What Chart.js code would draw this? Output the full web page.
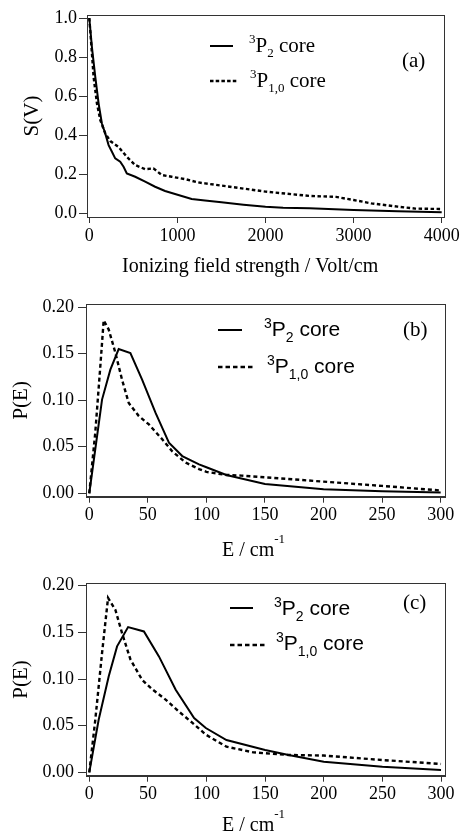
<!DOCTYPE html>
<html>
<head>
<meta charset="utf-8">
<script src="https://cdn.jsdelivr.net/npm/chart.js@4.4.0/dist/chart.umd.min.js"></script>
<style>
  html, body { margin: 0; padding: 0; background: #fff; }
  #wrap { position: relative; width: 462px; height: 834px; }
  canvas { position: absolute; left: 0; }
</style>
</head>
<body>
<div id="wrap">
  <canvas id="chartA" width="462" height="280" style="top:0px"></canvas>
  <canvas id="chartB" width="462" height="280" style="top:280px"></canvas>
  <canvas id="chartC" width="462" height="274" style="top:560px"></canvas>
</div>
<script>
// Panel (a): survival S(V) vs ionizing field (Volt/cm)
const fieldA_P2 = [0, 30, 68, 106, 143, 181, 219, 257, 294, 351, 389, 426, 521, 634, 747, 860, 1011, 1162, 1313, 1500, 1750, 2000, 2200, 2500, 3000, 3500, 4000];
const sA_P2 = [1.0, 0.85, 0.698, 0.562, 0.46, 0.409, 0.349, 0.315, 0.281, 0.264, 0.238, 0.204, 0.187, 0.162, 0.136, 0.114, 0.094, 0.073, 0.065, 0.056, 0.044, 0.034, 0.029, 0.026, 0.017, 0.010, 0.005];
const fieldA_P10 = [0, 25, 49, 87, 125, 181, 238, 332, 426, 521, 634, 728, 823, 936, 1087, 1238, 1313, 1500, 2000, 2500, 2800, 3000, 3200, 3500, 3700, 4000];
const sA_P10 = [1.0, 0.85, 0.698, 0.562, 0.477, 0.409, 0.37, 0.34, 0.289, 0.247, 0.226, 0.23, 0.196, 0.187, 0.175, 0.158, 0.153, 0.142, 0.111, 0.089, 0.084, 0.068, 0.051, 0.034, 0.024, 0.022];

// Panel (b): P(E) vs E (cm-1)
const eB_P2 = [0, 10.9, 18, 25.1, 35.1, 45.1, 56.6, 68, 79.4, 93.7, 100, 117, 150, 200, 250, 300];
const pB_P2 = [0, 0.1007, 0.1329, 0.155, 0.1507, 0.1221, 0.0864, 0.0543, 0.04, 0.031, 0.028, 0.0197, 0.010, 0.0043, 0.0022, 0.0007];
const eB_P10 = [0, 5.1, 9.4, 12.3, 16.6, 22.3, 28, 33.7, 42.3, 50.9, 62.3, 70.9, 82.3, 93.7, 100, 117, 130, 150, 200, 250, 300];
const pB_P10 = [0, 0.065, 0.136, 0.186, 0.176, 0.151, 0.122, 0.097, 0.083, 0.074, 0.058, 0.045, 0.033, 0.026, 0.023, 0.0197, 0.019, 0.0172, 0.0125, 0.0079, 0.003];

// Panel (c): P(E) vs E (cm-1)
const eC_P2 = [0, 8, 16.6, 23.7, 33.1, 46.6, 59.4, 73.7, 89.4, 99.4, 117, 150, 170, 200, 250, 300];
const pC_P2 = [0, 0.0564, 0.103, 0.135, 0.1557, 0.151, 0.1243, 0.0886, 0.0582, 0.0475, 0.0346, 0.024, 0.0186, 0.0114, 0.006, 0.0025];
const eC_P10 = [0, 5.1, 10.9, 16, 22.3, 28, 35.1, 45.1, 53.7, 65.1, 76.6, 88, 99.4, 117, 140, 170, 200, 250, 300];
const pC_P10 = [0, 0.056, 0.128, 0.187, 0.174, 0.149, 0.121, 0.099, 0.089, 0.078, 0.065, 0.053, 0.0404, 0.0275, 0.0214, 0.0186, 0.018, 0.0132, 0.009];

// ticks
const xTicksA = [0, 1000, 2000, 3000, 4000];
const xLabelsA = ['0', '1000', '2000', '3000', '4000'];
const yTicksA = [0, 0.2, 0.4, 0.6, 0.8, 1.0];
const yLabelsA = ['0.0', '0.2', '0.4', '0.6', '0.8', '1.0'];
const xTicksE = [0, 50, 100, 150, 200, 250, 300];
const xLabelsE = ['0', '50', '100', '150', '200', '250', '300'];
const yTicksP = [0, 0.05, 0.10, 0.15, 0.20];
const yLabelsP = ['0.00', '0.05', '0.10', '0.15', '0.20'];

const SERIF = "'Liberation Serif', 'Times New Roman', serif";
const SANS = "'Liberation Sans', Arial, sans-serif";

const toPts = (xs, ys) => xs.map((x, i) => ({ x: x, y: ys[i] }));

function richText(ctx, x, y, parts) {
    parts.forEach(p => {
        ctx.font = p.size + 'px ' + p.family;
        ctx.fillText(p.text, x, y + (p.dy || 0));
        x += ctx.measureText(p.text).width;
    });
}

// frame box, legend, panel tag and x title
const panelDeco = {
    id: 'panelDeco',
    afterDraw(chart, args, o) {
        const ctx = chart.ctx;
        const a = chart.chartArea;
        ctx.save();
        ctx.strokeStyle = '#333';
        ctx.lineWidth = 1;
        const l = Math.round(a.left) + 0.5, t = Math.round(a.top) + 0.5;
        ctx.strokeRect(l, t, Math.round(a.right) - Math.round(a.left), Math.round(a.bottom) - Math.round(a.top));

        ctx.fillStyle = '#000';
        ctx.strokeStyle = '#000';
        ctx.textBaseline = 'alphabetic';
        ctx.textAlign = 'left';
        o.rows.forEach(r => {
            ctx.beginPath();
            ctx.lineWidth = r.dash ? 2.4 : 2;
            ctx.setLineDash(r.dash || []);
            ctx.moveTo(r.x0, r.y);
            ctx.lineTo(r.x1, r.y);
            ctx.stroke();
            ctx.setLineDash([]);
            richText(ctx, r.tx, r.ty, [
                { text: '3', size: o.supSize, family: o.family, dy: o.supDy },
                { text: 'P', size: o.size, family: o.family },
                { text: r.sub, size: o.supSize, family: o.family, dy: o.subDy },
                { text: ' core', size: o.size, family: o.family }
            ]);
        });
        ctx.font = '21px ' + SERIF;
        ctx.fillText(o.tag, o.tagX, o.tagY);
        richText(ctx, o.titleX, o.titleY, o.title);
        ctx.restore();
    }
};

function makePanel(id, o) {
    return new Chart(document.getElementById(id), {
        type: 'line',
        data: {
            datasets: [
                { label: '3P2 core', data: o.solid, borderColor: '#000', borderWidth: 2, pointRadius: 0, tension: 0 },
                { label: '3P1,0 core', data: o.dashed, borderColor: '#000', borderWidth: 2.4, borderDash: o.dash, pointRadius: 0, tension: 0 }
            ]
        },
        options: {
            responsive: false,
            animation: false,
            devicePixelRatio: 1,
            layout: { padding: { left: 0, right: o.padRight, top: o.padTop, bottom: 0 } },
            plugins: { legend: { display: false }, tooltip: { enabled: false }, panelDeco: o.deco },
            scales: {
                x: {
                    type: 'linear', min: o.xMin, max: o.xMax,
                    afterBuildTicks: s => { s.ticks = o.xTicks.map(v => ({ value: v })); },
                    afterFit: s => { s.height = o.xAxisH; },
                    ticks: { callback: (v, i) => o.xLabels[i], font: { family: SERIF, size: 18 }, color: '#000', padding: 2, maxRotation: 0, autoSkip: false },
                    grid: { drawOnChartArea: false, drawTicks: true, tickLength: 6, color: '#333' },
                    border: { display: true, color: '#333' }
                },
                y: {
                    type: 'linear', min: o.yMin, max: o.yMax,
                    afterBuildTicks: s => { s.ticks = o.yTicks.map(v => ({ value: v })); },
                    afterFit: s => { s.width = o.yAxisW; },
                    ticks: { callback: (v, i) => o.yLabels[i], font: { family: SERIF, size: 18 }, color: '#000', padding: o.yTickPad, autoSkip: false },
                    grid: { drawOnChartArea: false, drawTicks: true, tickLength: 8, color: '#333' },
                    border: { display: true, color: '#333' },
                    title: { display: true, text: o.yTitle, font: { family: SERIF, size: 21 }, color: '#000', padding: { top: o.yTitlePad, bottom: 0 } }
                }
            }
        },
        plugins: [panelDeco]
    });
}

makePanel('chartA', {
    solid: toPts(fieldA_P2, sA_P2), dashed: toPts(fieldA_P10, sA_P10), dash: [3.5, 2.5],
    xMin: -26, xMax: 4026, yMin: -0.019, yMax: 1.0154,
    xTicks: xTicksA, xLabels: xLabelsA, yTicks: yTicksA, yLabels: yLabelsA,
    padRight: 18, padTop: 15, xAxisH: 63, yAxisW: 87, yTickPad: 2,
    yTitle: 'S(V)', yTitlePad: 20,
    deco: {
        family: SERIF, size: 21, supSize: 13, supDy: -9, subDy: 5,
        rows: [
            { x0: 210, x1: 233, y: 46, tx: 249, ty: 52, sub: '2' },
            { x0: 210, x1: 237, y: 81, dash: [3.5, 2.2], tx: 250, ty: 87, sub: '1,0' }
        ],
        tag: '(a)', tagX: 402, tagY: 67,
        titleX: 122, titleY: 272,
        title: [{ text: 'Ionizing field strength / Volt/cm', size: 20, family: SERIF }]
    }
});

makePanel('chartB', {
    solid: toPts(eB_P2, pB_P2), dashed: toPts(eB_P10, pB_P10), dash: [4, 3],
    xMin: -2.8, xMax: 303.7, yMin: -0.0037, yMax: 0.2035,
    xTicks: xTicksE, xLabels: xLabelsE, yTicks: yTicksP, yLabels: yLabelsP,
    padRight: 17, padTop: 24, xAxisH: 63.3, yAxisW: 86, yTickPad: 4,
    yTitle: 'P(E)', yTitlePad: 9,
    deco: {
        family: SANS, size: 21, supSize: 14, supDy: -8, subDy: 6,
        rows: [
            { x0: 218, x1: 242, y: 50, tx: 264, ty: 56, sub: '2' },
            { x0: 218, x1: 255, y: 87, dash: [4.5, 3], tx: 267, ty: 93, sub: '1,0' }
        ],
        tag: '(b)', tagX: 403, tagY: 56,
        titleX: 222, titleY: 276,
        title: [{ text: 'E / cm', size: 20, family: SERIF }, { text: '-1', size: 13, family: SERIF, dy: -13 }]
    }
});

makePanel('chartC', {
    solid: toPts(eC_P2, pC_P2), dashed: toPts(eC_P10, pC_P10), dash: [4, 3],
    xMin: -2.8, xMax: 303.4, yMin: -0.0036, yMax: 0.2026,
    xTicks: xTicksE, xLabels: xLabelsE, yTicks: yTicksP, yLabels: yLabelsP,
    padRight: 17, padTop: 23.3, xAxisH: 58.3, yAxisW: 86, yTickPad: 4,
    yTitle: 'P(E)', yTitlePad: 9,
    deco: {
        family: SANS, size: 21, supSize: 14, supDy: -8, subDy: 6,
        rows: [
            { x0: 230, x1: 253, y: 48, tx: 274, ty: 55, sub: '2' },
            { x0: 230, x1: 265, y: 85, dash: [4.5, 3], tx: 276, ty: 90, sub: '1,0' }
        ],
        tag: '(c)', tagX: 403, tagY: 49,
        titleX: 222, titleY: 271,
        title: [{ text: 'E / cm', size: 20, family: SERIF }, { text: '-1', size: 13, family: SERIF, dy: -13 }]
    }
});
</script>
</body>
</html>
